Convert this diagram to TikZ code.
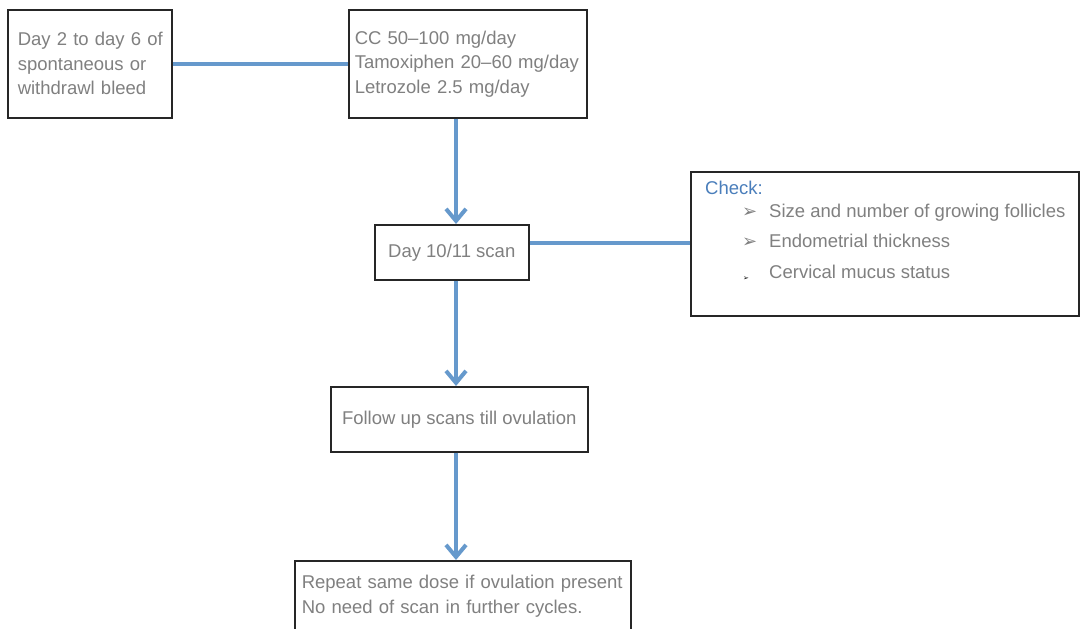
\documentclass[tikz,border=0pt]{standalone}
\usepackage{fontspec}
\setmainfont{Liberation Sans}
\newfontfamily\symfont{DejaVu Sans}
\usetikzlibrary{arrows.meta}
\definecolor{txtgray}{RGB}{128,128,128}
\definecolor{linkblue}{RGB}{102,153,204}
\definecolor{headblue}{RGB}{74,126,187}
\newcommand{\arrowbullet}{\makebox[27pt][l]{\raisebox{0.5pt}{\textcolor{txtgray}{\symfont\fontsize{18}{18}\selectfont ➢}}}}
\newcommand{\tinybullet}{\makebox[27pt][l]{\hspace{1pt}\raisebox{-2pt}{\textcolor{black}{\symfont\fontsize{7}{7}\selectfont ➢}}}}
\begin{document}
\begin{tikzpicture}[x=1pt,y=-1pt,
  box/.style={draw=black!85, line width=1.5pt, fill=white, inner sep=0pt, anchor=north west},
  txt/.style={text=txtgray, font=\fontsize{18.5}{24.5}\selectfont, align=left},
  link/.style={draw=linkblue, line width=4pt},
  flow/.style={link, -{Straight Barb[length=12pt,width=20pt]}}]
\useasboundingbox (0,0) rectangle (1080,629);
\clip (0,0) rectangle (1080,629);

% boxes
\node[box, txt, minimum width=164pt, minimum height=108pt, text width=150pt] (bleed) at (7,9)
  {\hspace*{3pt}Day 2 to day 6 of\\\hspace*{3pt}spontaneous or\\\hspace*{3pt}withdrawl bleed};
\node[box, txt, minimum width=238pt, minimum height=108pt, text width=226pt] (drugs) at (348,9)
  {CC 50--100 mg/day\\Tamoxiphen 20--60 mg/day\\Letrozole 2.5 mg/day};
\node[box, txt, minimum width=154pt, minimum height=55pt] (scan) at (374,224) {Day 10/11 scan};
\node[box, minimum width=388pt, minimum height=144pt] (check) at (690,171) {};
\node[txt, anchor=north west, inner sep=0pt, font=\fontsize{18.5}{20}\selectfont] (checktext) at (705,181)
  {\textcolor{headblue}{Check:}\\[3pt]
   \hspace*{37pt}\arrowbullet Size and number of growing follicles\\[10pt]
   \hspace*{37pt}\arrowbullet Endometrial thickness\\[11pt]
   \hspace*{37pt}\tinybullet Cervical mucus status};
\node[box, txt, minimum width=257pt, minimum height=65pt] (follow) at (330,386) {Follow up scans till ovulation};
\node[box, txt, minimum width=336pt, minimum height=71pt, text width=322pt] (repeat) at (294,560)
  {Repeat same dose if ovulation present\\No need of scan in further cycles.};

% connectors
\coordinate (spine) at (456,0);
\draw[link] (bleed.east) -- (drugs.west);
\draw[flow] (drugs.south -| spine) -- (scan.north -| spine);
\draw[link] ([yshift=9.5pt]scan.east) -- ([yshift=9.5pt]scan.east -| check.west);
\draw[flow] (scan.south -| spine) -- (follow.north -| spine);
\draw[flow] (follow.south -| spine) -- (repeat.north -| spine);
\end{tikzpicture}
\end{document}
